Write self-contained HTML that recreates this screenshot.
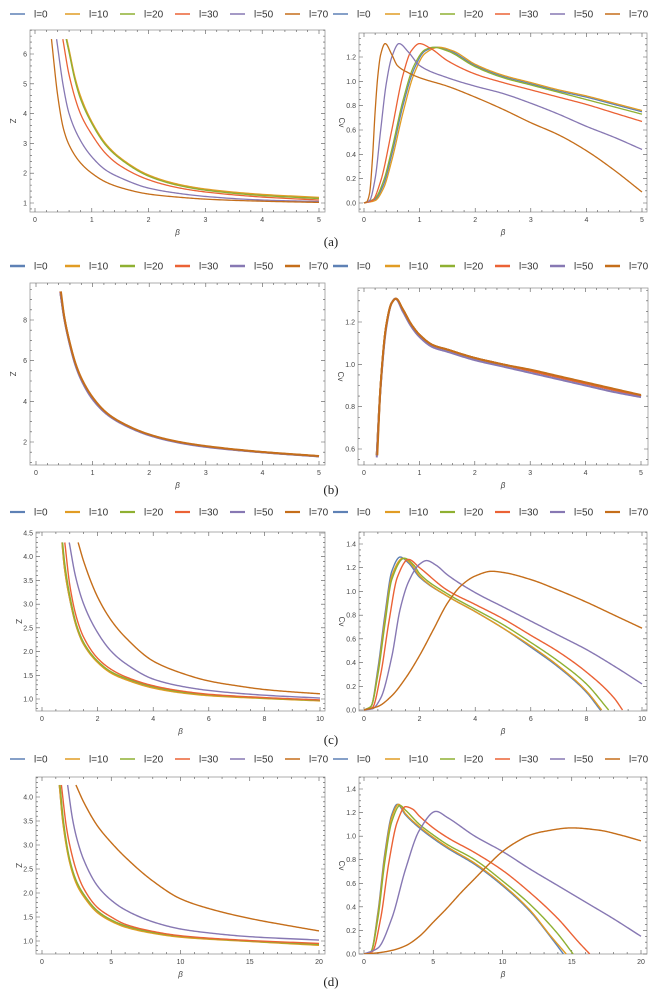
<!DOCTYPE html>
<html><head><meta charset="utf-8">
<style>
html,body{margin:0;padding:0;background:#fff;}
svg{display:block;font-family:"Liberation Sans",sans-serif;}
</style></head>
<body>
<svg id="fig" width="662" height="992" viewBox="0 0 662 992" xmlns="http://www.w3.org/2000/svg"></svg>
<script>
// ---- series labels / colors
const seriesLabels = ["l=0","l=10","l=20","l=30","l=50","l=70"];
const seriesColors = ["#5E81B5","#E19C24","#8FB032","#EB6235","#8778B3","#C56E1A"];

// ---- panel (a) left: Z vs beta
const aZ_l0  = [[0.55,6.5],[0.6,6.1],[0.7,5.2],[0.8,4.55],[1,3.7],[1.25,2.95],[1.5,2.5],[2,1.92],[2.5,1.62],[3,1.45],[4,1.27],[5,1.17]];
const aZ_l10 = [[0.56,6.5],[0.6,6.15],[0.7,5.25],[0.8,4.6],[1,3.73],[1.25,2.98],[1.5,2.52],[2,1.94],[2.5,1.64],[3,1.47],[4,1.29],[5,1.19]];
const aZ_l20 = [[0.55,6.5],[0.6,6.05],[0.7,5.15],[0.8,4.5],[1,3.67],[1.25,2.93],[1.5,2.48],[2,1.9],[2.5,1.6],[3,1.43],[4,1.25],[5,1.15]];
const aZ_l30 = [[0.49,6.5],[0.6,5.3],[0.8,4.0],[1,3.3],[1.25,2.65],[1.5,2.25],[2,1.78],[2.5,1.52],[3,1.37],[4,1.2],[5,1.1]];
const aZ_l50 = [[0.38,6.5],[0.5,4.9],[0.6,4.0],[0.8,3.1],[1,2.55],[1.25,2.1],[1.5,1.85],[2,1.5],[2.5,1.33],[3,1.22],[4,1.1],[5,1.05]];
const aZ_l70 = [[0.29,6.5],[0.4,4.6],[0.5,3.5],[0.6,2.95],[0.8,2.35],[1,2.0],[1.25,1.7],[1.5,1.52],[2,1.3],[2.5,1.2],[3,1.13],[4,1.06],[5,1.02]];
// ---- panel (a) right: Cv vs beta
const aC_l0  = [[0,0],[0.2,0.03],[0.35,0.15],[0.5,0.4],[0.7,0.8],[0.9,1.1],[1.1,1.25],[1.3,1.28],[1.5,1.26],[2,1.13],[2.5,1.04],[3,0.98],[3.5,0.92],[4,0.87],[4.5,0.81],[5,0.75]];
const aC_l10 = [[0,0],[0.2,0.02],[0.35,0.12],[0.5,0.35],[0.7,0.74],[0.9,1.06],[1.1,1.23],[1.35,1.28],[1.6,1.25],[2,1.14],[2.5,1.05],[3,0.99],[3.5,0.93],[4,0.88],[4.5,0.82],[5,0.76]];
const aC_l20 = [[0,0],[0.2,0.04],[0.35,0.18],[0.5,0.44],[0.7,0.84],[0.9,1.13],[1.1,1.26],[1.25,1.28],[1.5,1.25],[2,1.12],[2.5,1.03],[3,0.97],[3.5,0.91],[4,0.85],[4.5,0.79],[5,0.73]];
const aC_l30 = [[0,0],[0.15,0.02],[0.3,0.18],[0.5,0.6],[0.7,1.05],[0.85,1.25],[1,1.31],[1.2,1.27],[1.5,1.17],[2,1.06],[2.5,0.99],[3,0.93],[3.5,0.87],[4,0.81],[4.5,0.74],[5,0.67]];
const aC_l50 = [[0,0],[0.1,0.02],[0.2,0.2],[0.3,0.6],[0.4,0.98],[0.5,1.2],[0.63,1.31],[0.8,1.24],[1,1.13],[1.5,1.03],[2,0.96],[2.5,0.9],[3,0.82],[3.5,0.73],[4,0.63],[4.5,0.54],[5,0.44]];
const aC_l70 = [[0,0],[0.05,0.01],[0.1,0.08],[0.15,0.35],[0.2,0.75],[0.25,1.05],[0.3,1.22],[0.38,1.31],[0.5,1.22],[0.6,1.13],[0.8,1.07],[1,1.03],[1.5,0.96],[2,0.87],[2.5,0.77],[3,0.66],[3.5,0.56],[4,0.43],[4.5,0.27],[5,0.09]];
// ---- panel (b) left
const bZ_l0  = [[0.43,9.4],[0.5,8.1],[0.6,6.8],[0.7,5.8],[0.8,5.1],[1,4.15],[1.25,3.4],[1.5,2.95],[2,2.35],[2.5,2.0],[3,1.78],[4,1.5],[5,1.3]];
const bZ_l10 = [[0.43,9.4],[0.5,8.1],[0.6,6.8],[0.7,5.8],[0.8,5.1],[1,4.15],[1.25,3.4],[1.5,2.95],[2,2.35],[2.5,2.0],[3,1.78],[4,1.5],[5,1.3]];
const bZ_l20 = [[0.43,9.4],[0.5,8.1],[0.6,6.8],[0.7,5.8],[0.8,5.1],[1,4.15],[1.25,3.4],[1.5,2.95],[2,2.35],[2.5,2.0],[3,1.78],[4,1.5],[5,1.3]];
const bZ_l30 = [[0.43,9.4],[0.5,8.1],[0.6,6.8],[0.7,5.8],[0.8,5.1],[1,4.15],[1.25,3.4],[1.5,2.95],[2,2.35],[2.5,2.0],[3,1.78],[4,1.5],[5,1.3]];
const bZ_l50 = [[0.43,9.35],[0.5,8.05],[0.6,6.75],[0.7,5.75],[0.8,5.05],[1,4.1],[1.25,3.37],[1.5,2.92],[2,2.33],[2.5,1.98],[3,1.76],[4,1.49],[5,1.29]];
const bZ_l70 = [[0.44,9.4],[0.5,8.15],[0.6,6.85],[0.7,5.85],[0.8,5.15],[1,4.2],[1.25,3.43],[1.5,2.97],[2,2.37],[2.5,2.02],[3,1.8],[4,1.51],[5,1.31]];
// ---- panel (b) right
const bC_l0  = [[0.23,0.57],[0.3,0.9],[0.4,1.18],[0.5,1.29],[0.57,1.31],[0.7,1.26],[0.85,1.19],[1,1.14],[1.25,1.09],[1.5,1.07],[2,1.03],[2.5,1.0],[3,0.97],[3.5,0.94],[4,0.91],[4.5,0.88],[5,0.85]];
const bC_l10 = [[0.23,0.57],[0.3,0.9],[0.4,1.18],[0.5,1.29],[0.57,1.31],[0.7,1.26],[0.85,1.19],[1,1.14],[1.25,1.09],[1.5,1.07],[2,1.03],[2.5,1.0],[3,0.97],[3.5,0.94],[4,0.91],[4.5,0.88],[5,0.85]];
const bC_l20 = [[0.23,0.57],[0.3,0.9],[0.4,1.18],[0.5,1.29],[0.57,1.31],[0.7,1.26],[0.85,1.19],[1,1.14],[1.25,1.09],[1.5,1.07],[2,1.03],[2.5,1.0],[3,0.97],[3.5,0.94],[4,0.91],[4.5,0.88],[5,0.85]];
const bC_l30 = [[0.23,0.57],[0.3,0.9],[0.4,1.18],[0.5,1.29],[0.57,1.31],[0.7,1.26],[0.85,1.19],[1,1.14],[1.25,1.09],[1.5,1.07],[2,1.03],[2.5,1.0],[3,0.97],[3.5,0.94],[4,0.91],[4.5,0.88],[5,0.85]];
const bC_l50 = [[0.23,0.56],[0.3,0.89],[0.4,1.17],[0.5,1.29],[0.57,1.31],[0.7,1.25],[0.85,1.18],[1,1.13],[1.25,1.08],[1.5,1.06],[2,1.02],[2.5,0.99],[3,0.96],[3.5,0.93],[4,0.9],[4.5,0.87],[5,0.845]];
const bC_l70 = [[0.24,0.57],[0.3,0.9],[0.4,1.18],[0.5,1.29],[0.58,1.31],[0.7,1.26],[0.85,1.19],[1,1.14],[1.25,1.09],[1.5,1.07],[2,1.03],[2.5,1.0],[3,0.975],[3.5,0.945],[4,0.915],[4.5,0.885],[5,0.855]];
// ---- panel (c) left
const cZ_l0  = [[0.72,4.3],[0.8,3.8],[1,3.1],[1.25,2.5],[1.5,2.15],[2,1.78],[2.5,1.55],[3,1.42],[4,1.24],[5,1.14],[6,1.08],[8,1.02],[10,0.97]];
const cZ_l10 = [[0.72,4.3],[0.8,3.8],[1,3.1],[1.25,2.5],[1.5,2.15],[2,1.77],[2.5,1.54],[3,1.41],[4,1.23],[5,1.13],[6,1.07],[8,1.01],[10,0.96]];
const cZ_l20 = [[0.74,4.3],[0.82,3.85],[1,3.18],[1.25,2.55],[1.5,2.19],[2,1.8],[2.5,1.57],[3,1.44],[4,1.26],[5,1.15],[6,1.09],[8,1.02],[10,0.97]];
const cZ_l30 = [[0.82,4.3],[1,3.4],[1.25,2.7],[1.5,2.3],[2,1.86],[2.5,1.62],[3,1.47],[4,1.28],[5,1.17],[6,1.1],[8,1.03],[10,0.98]];
const cZ_l50 = [[0.98,4.3],[1.2,3.6],[1.5,3.0],[2,2.4],[2.5,2.0],[3,1.75],[4,1.42],[5,1.27],[6,1.18],[8,1.08],[10,1.02]];
const cZ_l70 = [[1.3,4.3],[1.5,3.9],[2,3.15],[2.5,2.65],[3,2.3],[4,1.8],[5,1.55],[6,1.38],[7,1.28],[8,1.2],[9,1.15],[10,1.11]];
// ---- panel (c) right
const cC_l0  = [[0,0],[0.25,0.03],[0.5,0.35],[0.75,0.8],[1,1.17],[1.3,1.29],[1.6,1.24],[2,1.12],[3,0.96],[4,0.83],[5,0.69],[6,0.53],[7,0.36],[8,0.15],[8.5,0]];
const cC_l10 = [[0,0],[0.25,0.03],[0.5,0.32],[0.75,0.76],[1,1.13],[1.4,1.28],[1.7,1.23],[2,1.13],[3,0.96],[4,0.83],[5,0.69],[6,0.54],[7,0.37],[8,0.16],[8.55,0]];
const cC_l20 = [[0,0],[0.25,0.03],[0.5,0.3],[0.75,0.72],[1,1.1],[1.45,1.28],[1.8,1.22],[2,1.15],[3,0.98],[4,0.85],[5,0.72],[6,0.57],[7,0.41],[8,0.22],[8.8,0]];
const cC_l30 = [[0,0],[0.3,0.02],[0.6,0.3],[0.9,0.75],[1.2,1.12],[1.6,1.27],[2,1.2],[3,1.01],[4,0.89],[5,0.77],[6,0.63],[7,0.49],[8,0.32],[9,0.1],[9.3,0]];
const cC_l50 = [[0,0],[0.3,0.01],[0.6,0.1],[1,0.45],[1.3,0.85],[1.6,1.08],[2,1.23],[2.25,1.26],[2.6,1.22],[3,1.14],[4,0.99],[5,0.87],[6,0.75],[7,0.63],[8,0.51],[9,0.37],[10,0.22]];
const cC_l70 = [[0,0],[0.5,0.03],[1,0.12],[1.5,0.27],[2,0.46],[2.5,0.68],[3,0.9],[3.5,1.05],[4,1.13],[4.6,1.17],[5,1.16],[6,1.1],[7,1.01],[8,0.91],[9,0.8],[10,0.69]];
// ---- panel (d) left
const dZ_l0  = [[1.25,4.25],[1.5,3.5],[2,2.65],[2.5,2.2],[3,1.95],[4,1.6],[5,1.42],[6,1.3],[8,1.17],[10,1.09],[15,1.0],[20,0.92]];
const dZ_l10 = [[1.25,4.25],[1.5,3.48],[2,2.63],[2.5,2.18],[3,1.93],[4,1.59],[5,1.41],[6,1.29],[8,1.16],[10,1.08],[15,0.99],[20,0.91]];
const dZ_l20 = [[1.3,4.25],[1.55,3.5],[2,2.7],[2.5,2.24],[3,1.98],[4,1.63],[5,1.44],[6,1.32],[8,1.18],[10,1.1],[15,1.0],[20,0.93]];
const dZ_l30 = [[1.4,4.25],[1.75,3.4],[2,3.0],[2.5,2.45],[3,2.1],[4,1.7],[5,1.5],[6,1.35],[8,1.2],[10,1.11],[15,1.01],[20,0.95]];
const dZ_l50 = [[1.85,4.25],[2.2,3.55],[2.5,3.15],[3,2.7],[4,2.15],[5,1.85],[6,1.65],[8,1.4],[10,1.25],[12,1.17],[15,1.09],[20,1.02]];
const dZ_l70 = [[2.45,4.25],[3,3.9],[4,3.4],[5,3.05],[6,2.75],[8,2.25],[10,1.88],[12,1.68],[15,1.47],[18,1.31],[20,1.21]];
// ---- panel (d) right
const dC_l0  = [[0,0],[0.5,0.02],[1,0.35],[1.5,0.85],[2,1.18],[2.4,1.27],[3,1.18],[4,1.07],[5,0.98],[6,0.9],[8,0.76],[10,0.58],[12,0.36],[13.5,0.14],[14.4,0]];
const dC_l10 = [[0,0],[0.5,0.02],[1,0.33],[1.5,0.82],[2,1.16],[2.5,1.27],[3,1.19],[4,1.08],[5,0.99],[6,0.91],[8,0.77],[10,0.59],[12,0.37],[13.5,0.15],[14.6,0]];
const dC_l20 = [[0,0],[0.5,0.02],[1,0.3],[1.5,0.78],[2,1.12],[2.6,1.26],[3,1.22],[4,1.1],[5,1.01],[6,0.93],[8,0.8],[10,0.62],[12,0.42],[14,0.17],[15.1,0]];
const dC_l30 = [[0,0],[0.6,0.02],[1.2,0.3],[1.8,0.78],[2.4,1.12],[3,1.25],[3.5,1.23],[4,1.17],[5,1.07],[6,0.99],[8,0.86],[10,0.71],[12,0.52],[14,0.3],[15.5,0.1],[16.3,0]];
const dC_l50 = [[0,0],[1,0.05],[2,0.3],[3,0.72],[4,1.05],[5.2,1.21],[6,1.16],[8,1.0],[10,0.87],[12,0.72],[14,0.58],[16,0.44],[18,0.3],[20,0.15]];
const dC_l70 = [[0,0],[1,0.01],[2,0.03],[3,0.07],[4,0.15],[5,0.27],[6,0.39],[7,0.52],[8,0.64],[9,0.76],[10,0.87],[11,0.95],[12,1.01],[13,1.04],[15,1.07],[17,1.05],[18.5,1.01],[20,0.96]];

// ---- tick label arrays
const ticksX5 = [0,1,2,3,4,5];
const ticksX10 = [0,2,4,6,8,10];
const ticksX20 = [0,5,10,15,20];
const ticksZa = [1,2,3,4,5,6];
const ticksZb = [2,4,6,8];
const ticksZcd = [1.0,1.5,2.0,2.5,3.0,3.5,4.0,4.5];
const ticksCa = [0.0,0.2,0.4,0.6,0.8,1.0,1.2];
const ticksCb = [0.6,0.8,1.0,1.2];
const ticksCcd = [0.0,0.2,0.4,0.6,0.8,1.0,1.2,1.4];

const NS = "http://www.w3.org/2000/svg";
const svg = document.getElementById("fig");
function mk(tag, attrs, parent){
  const e = document.createElementNS(NS, tag);
  for (const k in attrs) e.setAttribute(k, attrs[k]);
  (parent||svg).appendChild(e);
  return e;
}
function lin(v0,p0,v1,p1){ return v => p0 + (v - v0) * (p1 - p0) / (v1 - v0); }

// monotone cubic (Fritsch-Carlson) interpolation in data space, sampled densely
function monotonePts(data){
  const n = data.length, xs = data.map(d=>d[0]), ys = data.map(d=>d[1]);
  const h = [], dl = [];
  for (let i=0;i<n-1;i++){ h[i]=xs[i+1]-xs[i]; dl[i]=(ys[i+1]-ys[i])/h[i]; }
  const m = new Array(n);
  m[0]=dl[0]; m[n-1]=dl[n-2];
  for (let i=1;i<n-1;i++){
    if (dl[i-1]*dl[i] <= 0) m[i]=0;
    else { const w1=2*h[i]+h[i-1], w2=h[i]+2*h[i-1]; m[i]=(w1+w2)/(w1/dl[i-1]+w2/dl[i]); }
  }
  const out=[];
  for (let i=0;i<n-1;i++){
    const N=24;
    for (let k=0;k<N;k++){
      const t=k/N, t2=t*t, t3=t2*t;
      const y=(2*t3-3*t2+1)*ys[i]+(t3-2*t2+t)*h[i]*m[i]+(-2*t3+3*t2)*ys[i+1]+(t3-t2)*h[i]*m[i+1];
      out.push([xs[i]+t*h[i], y]);
    }
  }
  out.push([xs[n-1], ys[n-1]]);
  return out;
}

const panels = [
  {id:"a-left", frame:[30,30,325,212], xm:[0,35,5,319], ym:[1,203,6,54], xt:ticksX5, yt:ticksZa, yfmt:0, minorX:0.2, minorY:0.2, ylab:"Z", series:[aZ_l0,aZ_l10,aZ_l20,aZ_l30,aZ_l50,aZ_l70], lw:1.3},
  {id:"a-right", frame:[359,33,647,212], xm:[0,364,5,642], ym:[0,203,1.2,57], xt:ticksX5, yt:ticksCa, yfmt:1, minorX:0.2, minorY:0.05, ylab:"Cv", series:[aC_l0,aC_l10,aC_l20,aC_l30,aC_l50,aC_l70], lw:1.3},
  {id:"b-left", frame:[30,283,325,465], xm:[0,36,5,319], ym:[2,442,8,320], xt:ticksX5, yt:ticksZb, yfmt:0, minorX:0.2, minorY:0.5, ylab:"Z", series:[bZ_l0,bZ_l10,bZ_l20,bZ_l30,bZ_l50,bZ_l70], lw:2},
  {id:"b-right", frame:[358,288,648,465], xm:[0,364,5,641], ym:[0.6,449,1.2,322], xt:ticksX5, yt:ticksCb, yfmt:1, minorX:0.2, minorY:0.05, ylab:"Cv", series:[bC_l0,bC_l10,bC_l20,bC_l30,bC_l50,bC_l70], lw:2},
  {id:"c-left", frame:[36,532,325,711], xm:[0,42,10,320], ym:[1,699,4.5,533], xt:ticksX10, yt:ticksZcd, yfmt:1, minorX:0.5, minorY:0.1, ylab:"Z", series:[cZ_l0,cZ_l10,cZ_l20,cZ_l30,cZ_l50,cZ_l70], lw:1.4},
  {id:"c-right", frame:[359,532,647,711], xm:[0,364,10,642], ym:[0,710,1.4,544], xt:ticksX10, yt:ticksCcd, yfmt:1, minorX:0.5, minorY:0.05, ylab:"Cv", series:[cC_l0,cC_l10,cC_l20,cC_l30,cC_l50,cC_l70], lw:1.4},
  {id:"d-left", frame:[36,777,325,954], xm:[0,42,20,319], ym:[1,941,4,797], xt:ticksX20, yt:ticksZcd.slice(0,7), yfmt:1, minorX:1, minorY:0.1, ylab:"Z", series:[dZ_l0,dZ_l10,dZ_l20,dZ_l30,dZ_l50,dZ_l70], lw:1.4},
  {id:"d-right", frame:[359,777,647,954], xm:[0,364,20,641], ym:[0,954,1.4,789], xt:ticksX20, yt:ticksCcd, yfmt:1, minorX:1, minorY:0.05, ylab:"Cv", series:[dC_l0,dC_l10,dC_l20,dC_l30,dC_l50,dC_l70], lw:1.4}
];

panels.forEach((p, pi) => {
  const [x0,y0,x1,y1] = p.frame;
  const X = lin(p.xm[0],p.xm[1],p.xm[2],p.xm[3]);
  const Y = lin(p.ym[0],p.ym[1],p.ym[2],p.ym[3]);
  const g = mk("g", {});
  
  
  const cp = mk("clipPath", {id:"clip"+pi}, g);
  mk("rect", {x:x0, y:y0, width:x1-x0, height:y1-y0}, cp);
  const fr = mk("rect", {x:x0, y:y0, width:x1-x0, height:y1-y0, fill:"none", stroke:"#9a9a9a", "stroke-width":0.8}, g);
  
  
  const xv0 = p.xm[0] - (p.xm[1]-x0)/((p.xm[3]-p.xm[1])/(p.xm[2]-p.xm[0]));
  const xv1 = p.xm[0] + (x1-p.xm[1])/((p.xm[3]-p.xm[1])/(p.xm[2]-p.xm[0]));
  let tk = "";
  for (let v = Math.ceil(xv0/p.minorX)*p.minorX; v <= xv1; v += p.minorX){
    const px = X(v); if (px < x0 || px > x1) continue;
    const major = p.xt.some(t => Math.abs(t - v) < 1e-6);
    const L = major ? 4 : 2;
    tk += `M${px},${y1}v${-L}M${px},${y0}v${L}`;
  }
  const yvA = p.ym[0] + (y1 - p.ym[1]) * (p.ym[2]-p.ym[0])/(p.ym[3]-p.ym[1]);
  const yvB = p.ym[0] + (y0 - p.ym[1]) * (p.ym[2]-p.ym[0])/(p.ym[3]-p.ym[1]);
  for (let v = Math.ceil(yvA/p.minorY)*p.minorY; v <= yvB + 1e-9; v += p.minorY){
    const py = Y(v); if (py < y0 || py > y1) continue;
    const major = p.yt.some(t => Math.abs(t - v) < 1e-6);
    const L = major ? 4 : 2;
    tk += `M${x0},${py}h${L}M${x1},${py}h${-L}`;
  }
  const tp = mk("path", {d:tk, stroke:"#555", "stroke-width":0.6, fill:"none"}, g);
  
  
  p.xt.forEach(t => {
    const tx = mk("text", {x:X(t), y:y1+10, "font-size":7, fill:"#444", "text-anchor":"middle"}, g);
    
    
    tx.textContent = String(t);
  });
  p.yt.forEach(t => {
    const ty = mk("text", {x:x0-3, y:Y(t)+2.5, "font-size":7, fill:"#444", "text-anchor":"end"}, g);
    
    
    ty.textContent = t.toFixed(p.yfmt);
  });
  const xl = mk("text", {x:(x0+x1)/2, y:y1+23, "font-size":8, fill:"#444", "font-style":"italic", "text-anchor":"middle"}, g);
  
  
  xl.textContent = "β";
  const ylx = x0 - 20, yly = (y0+y1)/2;
  const yl = mk("text", {x:ylx, y:yly, "font-size":8, fill:"#444", "text-anchor":"middle", transform:`rotate(90 ${ylx} ${yly})`}, g);
  
  
  yl.textContent = p.ylab;
  const cg = mk("g", {"clip-path":`url(#clip${pi})`}, g);
  p.series.forEach((s, si) => {
    const pts = monotonePts(s).map(d => X(d[0]).toFixed(2) + "," + Y(d[1]).toFixed(2));
    const path = mk("path", {d:"M" + pts.join("L"), fill:"none", stroke:seriesColors[si], "stroke-width":p.lw, "stroke-linejoin":"round"}, cg);
    
    
  });
});

// ---- legends
const legendRows = [14, 266, 512, 759];
const legendLW = [1.5, 2.5, 2.2, 1.5];
legendRows.forEach((ly, ri) => {
  [10, 330].forEach((lx0, side) => {
    const lg = mk("g", {});
    
    
    seriesLabels.forEach((lab, i) => {
      const lx = lx0 + i*55 + (side && i===0 ? 3 : 0);
      const ln = mk("line", {x1:lx, y1:ly, x2:lx+15, y2:ly, stroke:seriesColors[i], "stroke-width":legendLW[ri]}, lg);
      
      
      const t = mk("text", {x:lx+24, y:ly+3.5, "font-size":10, fill:"#333"}, lg);
      
      
      t.textContent = lab;
    });
  });
});

// ---- panel letters
const panelLetters = ["(a)","(b)","(c)","(d)"];
const letterY = [246, 494, 744, 986];
panelLetters.forEach((s, i) => {
  const t = mk("text", {x:331, y:letterY[i], "font-size":13, fill:"#222", "text-anchor":"middle", "font-family":"Liberation Serif, serif"});
  
  
  t.textContent = s;
});
</script>
</body></html>
